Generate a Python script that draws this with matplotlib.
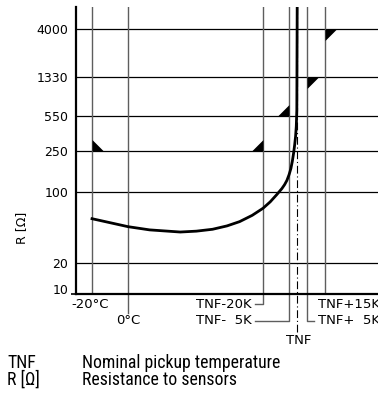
import matplotlib
matplotlib.use("Agg")
import matplotlib.pyplot as plt

# ---------------- data ----------------
TNF = 94.0
grid_temps = [-20, 0, 75, 89.5, 99.5, 109.5]
grid_labels = ["-20°C", "0°C", "TNF-20K", "TNF-  5K", "TNF+  5K", "TNF+15K"]
r_ticks = [10, 20, 100, 250, 550, 1330, 4000]

curve_T = [-20, -10, 0, 12, 29, 38, 47, 55, 62, 69, 75, 79, 82.6, 85.5, 87.0, 88.3,
           89.5, 90.5, 91.3, 92.0, 92.6, 93.1, 93.5, 93.8, 94.0]
curve_R = [54.7, 50.0, 45.7, 42.5, 40.5, 41.3, 43.1, 46.5, 51.2, 59.0, 69.2, 80.0,
           94, 108, 118, 130, 148, 170, 200, 240, 290, 350, 440, 637, 6500]

tri_T = [-20, 75, 89.5, 99.5, 109.5]
tri_R = [250, 250, 550, 1330, 4000]
tri_kind = ["up_right", "up_left", "up_left", "down_right", "down_right"]

legend_keys = ["TNF", "R [Ω]"]
legend_text = ["Nominal pickup temperature", "Resistance to sensors"]

# ---------------- layout ----------------
W, H, DPI = 378, 403, 100
AX_L, AX_R, AX_T, AX_B = 76, 378, 7, 294
fig = plt.figure(figsize=(W / DPI, H / DPI), dpi=DPI)
ax = fig.add_axes([AX_L / W, 1 - AX_B / H, (AX_R - AX_L) / W, (AX_B - AX_T) / H])
XMIN, XMAX = -28.9, 138.9
ax.set_xlim(XMIN, XMAX)
ax.set_yscale("log")
ax.set_ylim(10, 6500)
PX_PER_UNIT = (AX_R - AX_L) / (XMAX - XMIN)

def ay(py):
    return (AX_B - py) / (AX_B - AX_T)

def xpx(x, dpx):
    return x + dpx / PX_PER_UNIT

xt = ax.get_xaxis_transform()

for s in ["top", "right"]:
    ax.spines[s].set_visible(False)
for s in ["left", "bottom"]:
    ax.spines[s].set_linewidth(1.6)
    ax.spines[s].set_color("black")

ax.set_xticks([])
ax.set_yticks(r_ticks)
ax.set_yticklabels([str(v) for v in r_ticks])
ax.yaxis.set_minor_locator(matplotlib.ticker.NullLocator())
ax.tick_params(axis="y", length=0, pad=5.5, labelsize=9)
for lbl in ax.get_yticklabels():
    if lbl.get_text() == "10":
        lbl.set_verticalalignment("baseline")
# small tick at 10
ax.plot([(71 - AX_L) / PX_PER_UNIT + XMIN, XMIN], [10, 10], color="black", lw=1.2,
        clip_on=False, solid_capstyle="butt")

# horizontal grid lines
for r in r_ticks[1:]:
    ax.axhline(r, color="black", lw=0.9, zorder=1)

# vertical grid lines
for t in grid_temps:
    ax.axvline(t, color="#5e5e5e", lw=1.0, zorder=1)

# TNF dash-dot
ax.plot([TNF, TNF], [ay(332), 1.0], transform=xt, color="black", lw=0.8,
        linestyle=(0, (7, 2.5, 1, 2.5)), clip_on=False, zorder=2)

# curve
ax.plot(curve_T, curve_R, color="black", lw=2.0, zorder=4, solid_joinstyle="round",
        clip_on=True)

# triangles
shapes = {
    "up_right": [(0, 0), (0, 1), (1, 0), (0, 0)],
    "up_left": [(0, 0), (0, 1), (-1, 0), (0, 0)],
    "down_right": [(0, 0), (1, 0), (0, -1), (0, 0)],
}
for t, r, k in zip(tri_T, tri_R, tri_kind):
    ax.plot([t], [r], marker=shapes[k], markersize=16.5, color="black",
            markeredgewidth=0, linestyle="none", zorder=5)

# below-axis extensions and connectors
gcol = "#5e5e5e"
def seg(xs, ys, color=gcol, lw=1.0):
    ax.plot(xs, ys, transform=xt, color=color, lw=lw, clip_on=False, zorder=2)

seg([grid_temps[1]] * 2, [0, ay(313)])
seg([grid_temps[2], grid_temps[2], xpx(grid_temps[2], -8)], [0, ay(303.5), ay(303.5)])
seg([grid_temps[3], grid_temps[3], xpx(grid_temps[3], -34)], [0, ay(321), ay(321)])
seg([grid_temps[4], grid_temps[4], xpx(grid_temps[4], 7)], [0, ay(321), ay(321)])

lab_fs = 9.5
ax.text(xpx(grid_temps[0], -2), ay(305), grid_labels[0], transform=xt, ha="center",
        va="center", fontsize=lab_fs)
ax.text(grid_temps[1], ay(320), grid_labels[1], transform=xt, ha="center",
        va="center", fontsize=lab_fs)
ax.text(xpx(grid_temps[2], -11), ay(305), grid_labels[2], transform=xt, ha="right",
        va="center", fontsize=lab_fs)
ax.text(xpx(grid_temps[3], -37), ay(321), grid_labels[3], transform=xt, ha="right",
        va="center", fontsize=lab_fs)
ax.text(xpx(grid_temps[4], 11), ay(321), grid_labels[4], transform=xt, ha="left",
        va="center", fontsize=lab_fs)
ax.text(xpx(grid_temps[5], -7), ay(305), grid_labels[5], transform=xt, ha="left",
        va="center", fontsize=lab_fs)
ax.text(xpx(TNF, 1.5), ay(341), "TNF", transform=xt, ha="center", va="center",
        fontsize=lab_fs)

ax.set_ylabel("R [Ω]", fontsize=9)
ax.yaxis.set_label_coords((28.5 - AX_L) / (AX_R - AX_L), ay(227.5))

# legend text
leg_font = ["Roboto Condensed", "Liberation Sans Narrow", "Roboto", "DejaVu Sans"]
for i, (k, d) in enumerate(zip(legend_keys, legend_text)):
    yy = 1 - (363 + 17 * i) / H
    fig.text(7 / W, yy, k, ha="left", va="center", fontsize=12.8, family=leg_font,
             stretch="condensed")
    fig.text(82 / W, yy, d, ha="left", va="center", fontsize=12.8, family=leg_font,
             stretch="condensed")

fig.savefig("out.png", dpi=DPI)
